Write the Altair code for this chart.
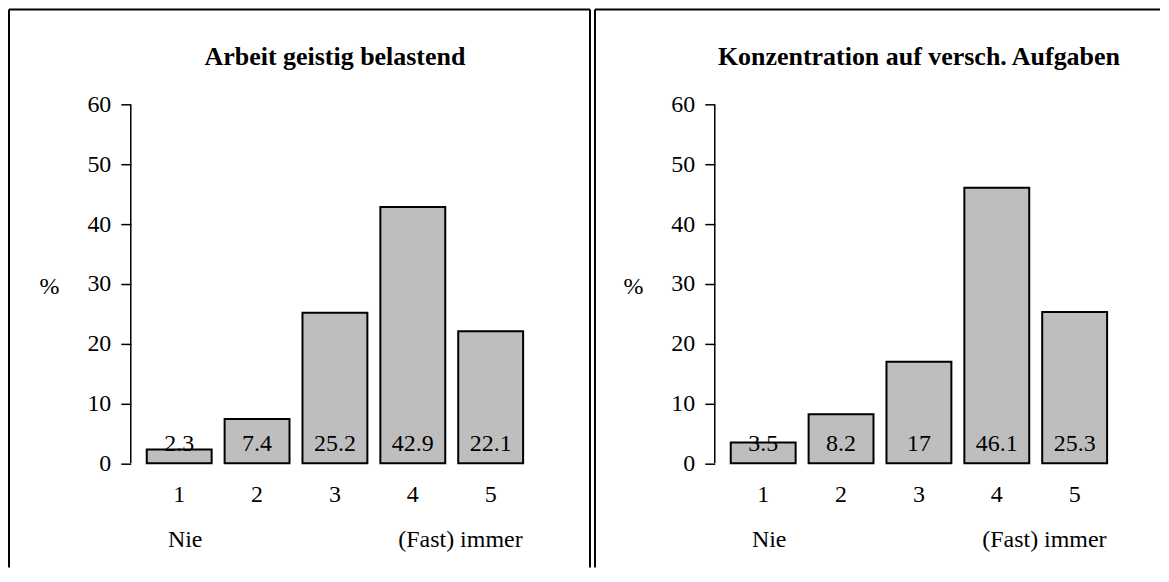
import altair as alt
import pandas as pd

panels = ["Arbeit geistig belastend", "Konzentration auf versch. Aufgaben"]
categories = ["1", "2", "3", "4", "5"]
values_a = [2.3, 7.4, 25.2, 42.9, 22.1]
values_b = [3.5, 8.2, 17, 46.1, 25.3]
labels_a = ["2.3", "7.4", "25.2", "42.9", "22.1"]
labels_b = ["3.5", "8.2", "17", "46.1", "25.3"]
end_low = "Nie"
end_high = "(Fast) immer"
y_ticks = [0, 10, 20, 30, 40, 50, 60]

rows = []
for p, vals, labs in [(panels[0], values_a, labels_a), (panels[1], values_b, labels_b)]:
    for c, v, l in zip(categories, vals, labs):
        rows.append({"panel": p, "cat": c, "value": v, "label": l,
                     "low": end_low, "high": end_high})
df = pd.DataFrame(rows)

FONT = "Liberation Serif"
FS = 24
W, H = 409, 388

xenc = alt.X("cat:N", sort=categories,
             scale=alt.Scale(paddingInner=1 / 6, paddingOuter=0.205),
             axis=alt.Axis(title=None, labelAngle=0, domain=False, ticks=False,
                           labelPadding=5, labelFont=FONT, labelFontSize=FS,
                           labelColor="black"))
yscale = alt.Scale(domain=[-2.4, 62.4], nice=False, zero=False)

base = alt.Chart()

bars = base.mark_bar(fill="#bebebe", stroke="black", strokeWidth=2).encode(
    x=xenc,
    y=alt.Y("value:Q", scale=yscale,
            axis=alt.Axis(values=y_ticks, grid=False, domain=False, tickSize=10,
                          tickColor="black", tickWidth=1.5, labelPadding=10,
                          labelFont=FONT, labelFontSize=FS, labelColor="black",
                          title="%", titleAngle=0, titleX=-82, titleY=197,
                          titleAlign="center", titleBaseline="middle",
                          titleFont=FONT, titleFontSize=FS, titleFontWeight="normal",
                          titleColor="black")),
    y2=alt.datum(0),
)

vlabels = base.mark_text(font=FONT, fontSize=FS, color="black", baseline="alphabetic").encode(
    x=alt.X("cat:N", sort=categories),
    y=alt.datum(2.0),
    text="label:N",
)

yline = base.mark_rule(color="black", strokeWidth=1.5).encode(
    x=alt.value(0), y=alt.datum(0), y2=alt.datum(60)
).transform_filter(alt.datum.cat == "1")

low_txt = base.mark_text(font=FONT, fontSize=FS, color="black", baseline="middle", dx=6).encode(
    x=alt.X("cat:N", sort=categories), y=alt.value(450), text="low:N"
).transform_filter(alt.datum.cat == "1")

high_txt = base.mark_text(font=FONT, fontSize=FS, color="black", baseline="middle",
                          align="right", dx=32).encode(
    x=alt.X("cat:N", sort=categories), y=alt.value(450), text="high:N"
).transform_filter(alt.datum.cat == "5")

title_txt = base.mark_text(font=FONT, fontSize=26, fontWeight="bold", color="black",
                           baseline="alphabetic", align="center").encode(
    x=alt.value(W / 2), y=alt.value(-25), text="panel:N"
).transform_filter(alt.datum.cat == "1")

TOP = -81
BOT = 478


def frame(panel_name, left, right, draw_right):
    layers = [
        base.mark_rule(color="black", strokeWidth=2).encode(
            x=alt.value(left), y=alt.value(TOP), y2=alt.value(BOT)),
        base.mark_rule(color="black", strokeWidth=2).encode(
            x=alt.value(left), x2=alt.value(right), y=alt.value(TOP)),
    ]
    if draw_right:
        layers.append(base.mark_rule(color="black", strokeWidth=2).encode(
            x=alt.value(right), y=alt.value(TOP), y2=alt.value(BOT)))
    return [l.transform_filter((alt.datum.cat == "1") & (alt.datum.panel == panel_name))
            for l in layers]


frames = frame(panels[0], -122, 460, True) + frame(panels[1], -120, 446, False)

layered = alt.layer(bars, vlabels, yline, low_txt, high_txt, title_txt, *frames).properties(
    width=W, height=H)

chart = layered.facet(
    data=df,
    column=alt.Column("panel:N", sort=panels, title=None, header=alt.Header(labels=False)),
    spacing=176,
).resolve_axis(y="independent").properties(
    bounds="flush", padding=0, background="white"
).configure_view(stroke="transparent", strokeWidth=0)

chart.save("out.html", embed_options={"renderer": "svg", "actions": False})
